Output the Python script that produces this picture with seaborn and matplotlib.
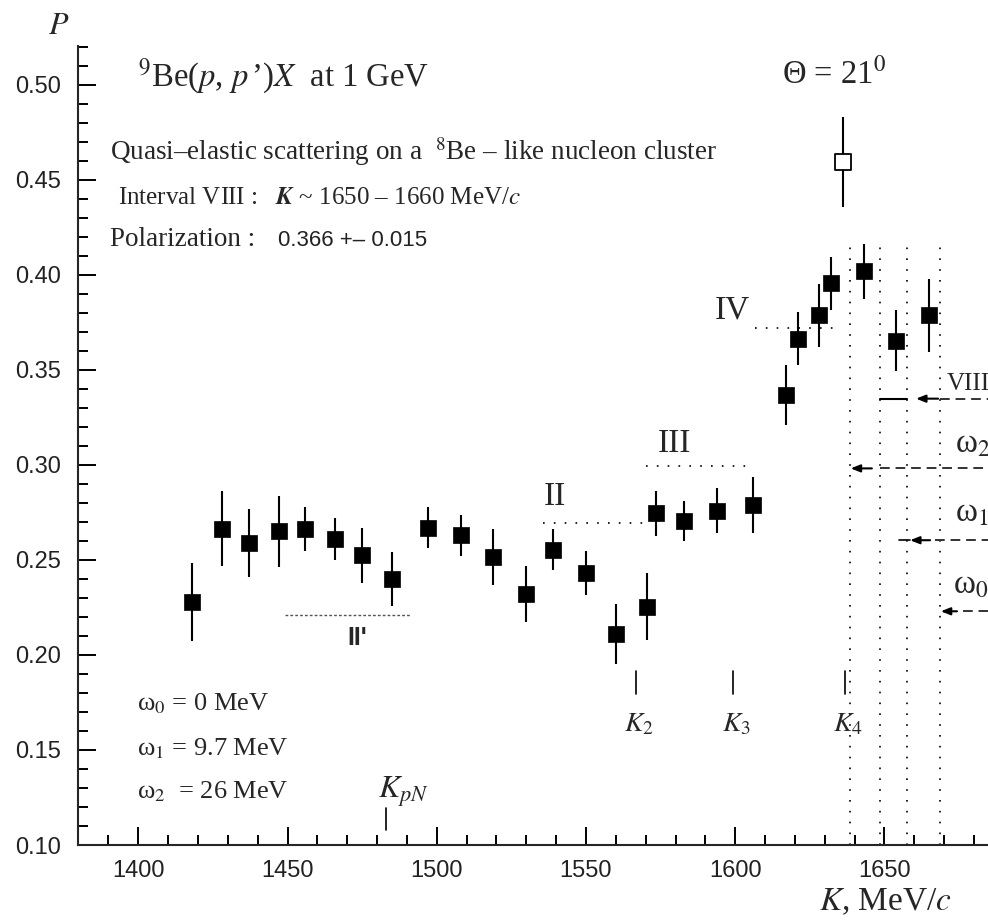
import numpy as np
import pandas as pd
import matplotlib
matplotlib.use('Agg')
import matplotlib.pyplot as plt
import seaborn as sns

# ── Data ──────────────────────────────────────────────────────────────
K_VALS = [1418, 1428, 1437, 1447, 1456, 1466, 1475, 1485, 1497, 1508,
          1519, 1530, 1539, 1550, 1560, 1570.5, 1573.5, 1583, 1594, 1606,
          1617, 1621, 1628, 1632, 1643, 1654, 1665]
P_VALS = [0.228, 0.2665, 0.259, 0.265, 0.2665, 0.261, 0.2525, 0.240, 0.267, 0.263,
          0.2515, 0.232, 0.2555, 0.243, 0.211, 0.2255, 0.2745, 0.2705, 0.276, 0.279,
          0.3366, 0.3664, 0.3787, 0.3956, 0.4019, 0.3655, 0.3787]
P_ERR = [0.0205, 0.0196, 0.018, 0.0186, 0.0116, 0.011, 0.0145, 0.0143, 0.0107, 0.0107,
         0.0149, 0.0149, 0.0107, 0.0116, 0.0158, 0.0177, 0.012, 0.0105, 0.0118, 0.0148,
         0.0158, 0.014, 0.0165, 0.0138, 0.0144, 0.0158, 0.019]

K_OPEN = [1636]
P_OPEN = [0.4596]
P_OPEN_ERR = [0.0237]

# dotted vertical boundaries
VLINE_K = [1638.5, 1648.5, 1657.5, 1668.5]
VLINE_TOP = 0.418

# dotted horizontal reference levels
BAND_LABELS = ["II'", 'II', 'III', 'IV']
BAND_K0 = [1449, 1535.5, 1570, 1606.5]
BAND_K1 = [1491.5, 1570, 1604, 1634]
BAND_P = [0.2213, 0.2696, 0.2994, 0.3722]

# short vertical markers
MARK_LABELS = ['$K_2$', '$K_3$', '$K_4$']
MARK_K = [1566.7, 1599.3, 1636.7]
KPN_K = 1483

# right-hand arrows: VIII, omega_2, omega_1, omega_0
ARROW_LABELS = ['VIII', 'ω$_2$', 'ω$_1$', 'ω$_0$']
ARROW_P = [0.3349, 0.2982, 0.2604, 0.2230]
ARROW_TIP = [1660.6, 1638.7, 1658.6, 1668.9]
ARROW_TAIL = [1668.0, 1645.8, 1665.3, 1674.3]
DASH_START = [1668.6, 1648.5, 1667.0, 1676.4]

X_LIM = (1379.8, 1684.7)
Y_LIM = (0.10, 0.5205)

# ── Style ─────────────────────────────────────────────────────────────
sns.set_style('ticks')
plt.rcParams['font.family'] = ['Liberation Serif', 'DejaVu Serif']
plt.rcParams['mathtext.fontset'] = 'stix'

fig = plt.figure(figsize=(9.88, 9.21), dpi=100)
ax = fig.add_axes([78 / 988, 76 / 921, 910 / 988, 799 / 921])

df = pd.DataFrame({'K': K_VALS, 'P': P_VALS, 'err': P_ERR})

ax.errorbar(df['K'], df['P'], yerr=df['err'], fmt='none', ecolor='black',
            elinewidth=1.5, capsize=0, zorder=2)
sns.scatterplot(data=df, x='K', y='P', marker='s', s=135, color='black',
                edgecolor='black', linewidth=0.5, zorder=3, ax=ax, legend=False)

ax.errorbar(K_OPEN, P_OPEN, yerr=P_OPEN_ERR, fmt='none', ecolor='black',
            elinewidth=1.5, capsize=0, zorder=2)
sns.scatterplot(x=K_OPEN, y=P_OPEN, marker='s', s=120, color='white',
                edgecolor='black', linewidth=1.3, zorder=3, ax=ax, legend=False)

# vertical dotted boundaries
for k in VLINE_K:
    ax.plot([k, k], [Y_LIM[0], VLINE_TOP], color='black', lw=1.2,
            linestyle=(0, (1, 5.5)), zorder=1)

# horizontal dotted bands with labels
band_text_pos = [(1470, 0.205), (1536, 0.2788), (1574, 0.3066), (1593.2, 0.377)]
for i, lab in enumerate(BAND_LABELS):
    if i == 0:
        ax.plot([BAND_K0[i], BAND_K1[i]], [BAND_P[i]] * 2, color='#4a5560', lw=1.0,
                linestyle=(0, (2, 1.5)), zorder=1)
        ax.text(*band_text_pos[i], lab, family='Liberation Sans', fontsize=18,
                fontweight='bold', ha='left', va='baseline')
    else:
        ax.text(*band_text_pos[i], lab, fontsize=24, ha='left', va='baseline')
        ax.plot([BAND_K0[i], BAND_K1[i]], [BAND_P[i]] * 2, color='black', lw=1.2,
                linestyle=(0, (1, 5.5)), zorder=1)

# K markers
for lab, k in zip(MARK_LABELS, MARK_K):
    ax.plot([k, k], [0.1794, 0.1915], color='black', lw=1.2)
    ax.text(k - 3.8, 0.160, lab, fontsize=20, ha='left', va='baseline')
ax.plot([KPN_K, KPN_K], [0.108, 0.1195], color='black', lw=1.2)
ax.text(1480.3, 0.1247, '$K_{pN}$', fontsize=23, ha='left', va='baseline')

# right-hand arrows and dashed levels (labels run off the right edge, as in the source)
ax.plot([1648.5, 1657.5], [ARROW_P[0]] * 2, color='black', lw=1.5)
ax.plot([1655.0, ARROW_TIP[2]], [ARROW_P[2]] * 2, color='black', lw=1.2)
label_pos = [(1671.0, 0.3392), (1673.7, 0.3067), (1673.7, 0.2700), (1673.0, 0.2325)]
for i, lab in enumerate(ARROW_LABELS):
    ax.annotate('', xy=(ARROW_TIP[i], ARROW_P[i]), xytext=(ARROW_TAIL[i], ARROW_P[i]),
                arrowprops=dict(arrowstyle='-|>,head_length=0.55,head_width=0.22',
                                color='black', lw=1.5, shrinkA=0, shrinkB=0))
    ax.plot([DASH_START[i], X_LIM[1]], [ARROW_P[i]] * 2, color='#333333', lw=1.4,
            linestyle=(0, (5, 3)), clip_on=False)
    fs = 18 if i == 0 else 24
    ax.text(*label_pos[i], lab, fontsize=fs, ha='left', va='baseline', clip_on=True)

# annotations
ax.text(1399.9, 0.4996, r'$^9$Be($p$, $p$$\,$’)$X$  at 1 GeV', fontsize=23.5,
        ha='left', va='baseline')
ax.text(1390.5, 0.4607, r'Quasi–elastic scattering on a  $^8$Be – like nucleon cluster',
        fontsize=19.5, ha='left', va='baseline')
ax.text(1393.2, 0.4375, r'Interval VIII :   $\boldsymbol{K}$ ~ 1650 – 1660 MeV/$c$',
        fontsize=18, ha='left', va='baseline')
ax.text(1390.5, 0.4155, 'Polarization :', fontsize=19.5, ha='left', va='baseline')
ax.text(1446.8, 0.4155, '0.366 +– 0.015', fontsize=16, family='Liberation Sans',
        ha='left', va='baseline', color='#222222')
ax.text(1615.7, 0.5006, 'Θ = 21$^0$', fontsize=23.5, ha='left', va='baseline')

ax.text(1399.6, 0.171, 'ω$_0$ = 0 MeV', fontsize=19, ha='left', va='baseline')
ax.text(1399.6, 0.1473, 'ω$_1$ = 9.7 MeV', fontsize=19, ha='left', va='baseline')
ax.text(1399.6, 0.1247, 'ω$_2$  = 26 MeV', fontsize=19, ha='left', va='baseline')

ax.text(1369.7, 0.527, '$P$', fontsize=23, ha='left', va='baseline', clip_on=False)
ax.text(1628, 0.0655, r'$K$, MeV/$c$', fontsize=24, ha='left', va='baseline', clip_on=False)

# ── Axes ──────────────────────────────────────────────────────────────
ax.set_xlim(*X_LIM)
ax.set_ylim(*Y_LIM)
ax.set_xticks([1400, 1450, 1500, 1550, 1600, 1650])
ax.set_xticks(np.arange(1390, 1690, 10), minor=True)
y_major = [0.10, 0.15, 0.20, 0.25, 0.30, 0.35, 0.40, 0.45, 0.50]
ax.set_yticks(y_major)
ax.set_yticks(np.arange(0.10, 0.525, 0.01), minor=True)
ax.set_yticklabels([f'{v:.2f}' for v in y_major])
ax.set_xlabel('')
ax.set_ylabel('')
for lab in ax.get_xticklabels() + ax.get_yticklabels():
    lab.set_family('Liberation Sans')
    lab.set_fontsize(17)
    lab.set_color('#222222')
ax.tick_params(which='major', direction='in', length=13, width=1.4, color='black')
ax.tick_params(which='minor', direction='in', length=7, width=1.4, color='black')
ax.tick_params(axis='y', pad=12)
ax.tick_params(axis='x', pad=11)
ax.spines['top'].set_visible(False)
ax.spines['right'].set_visible(False)
ax.spines['left'].set_linewidth(1.5)
ax.spines['bottom'].set_linewidth(1.5)
ax.set_facecolor('white')
fig.patch.set_facecolor('white')

fig.savefig('out.png', dpi=100, facecolor='white')
